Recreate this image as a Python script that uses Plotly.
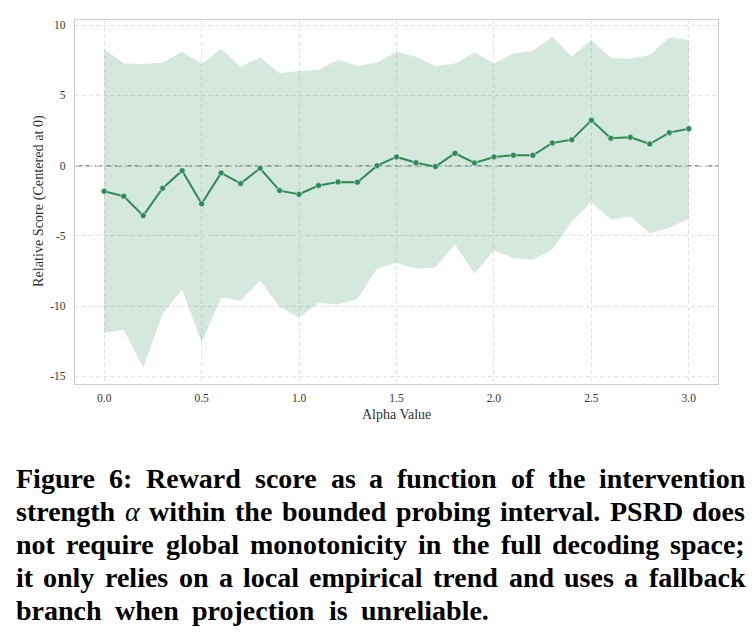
import plotly.graph_objects as go

# ---- data ----
alpha = [0.0, 0.1, 0.2, 0.3, 0.4, 0.5, 0.6, 0.7, 0.8, 0.9, 1.0,
         1.1, 1.2, 1.3, 1.4, 1.5, 1.6, 1.7, 1.8, 1.9, 2.0,
         2.1, 2.2, 2.3, 2.4, 2.5, 2.6, 2.7, 2.8, 2.9, 3.0]
mean_score = [-1.82, -2.18, -3.56, -1.61, -0.36, -2.72, -0.52, -1.28, -0.19, -1.78, -2.04,
              -1.42, -1.16, -1.18, 0.00, 0.62, 0.21, -0.07, 0.88, 0.19, 0.62,
              0.74, 0.74, 1.61, 1.85, 3.23, 1.95, 2.02, 1.54, 2.35, 2.63]
upper_band = [8.28, 7.28, 7.23, 7.33, 8.11, 7.23, 8.32, 7.04, 7.71, 6.59, 6.74,
              6.83, 7.54, 7.09, 7.35, 8.11, 7.75, 7.09, 7.28, 8.06, 7.28,
              7.99, 8.16, 9.17, 7.75, 8.94, 7.66, 7.61, 7.87, 9.15, 8.94]
lower_band = [-11.92, -11.69, -14.37, -10.55, -8.84, -12.59, -9.39, -9.60, -8.18, -10.07, -10.81,
              -9.79, -9.89, -9.48, -7.33, -6.94, -7.32, -7.25, -5.59, -7.70, -6.04,
              -6.59, -6.71, -5.95, -3.98, -2.60, -3.84, -3.63, -4.81, -4.45, -3.74]
x_ticks = [0.0, 0.5, 1.0, 1.5, 2.0, 2.5, 3.0]
x_tick_labels = ["0.0", "0.5", "1.0", "1.5", "2.0", "2.5", "3.0"]
y_ticks = [-15, -10, -5, 0, 5, 10]
y_tick_labels = ["-15", "-10", "-5", "0", "5", "10"]

x_title = "Alpha Value"
y_title = "Relative Score (Centered at 0)"

caption_lines = [
    "Figure 6: Reward score as a function of the intervention",
    "strength α within the bounded probing interval. PSRD does",
    "not require global monotonicity in the full decoding space;",
    "it only relies on a local empirical trend and uses a fallback",
    "branch when projection is unreliable.",
]

GREEN = "#2e8b57"
FONT = "Liberation Serif"

W, H = 754, 634
L, R, T, B = 75, 36, 20, 250
PW, PH = W - L - R, H - T - B

# Times-Bold advance widths (per 1000 em) for laying out the justified caption
TB = {" ": 250, ".": 250, ":": 333, ";": 333, "6": 500, "α": 540,
      "a": 500, "b": 556, "c": 444, "d": 556, "e": 444, "f": 333, "g": 500, "h": 556,
      "i": 278, "j": 333, "k": 556, "l": 278, "m": 833, "n": 556, "o": 500, "p": 556,
      "q": 556, "r": 444, "s": 389, "t": 333, "u": 556, "v": 500, "w": 722, "x": 500,
      "y": 500, "z": 444, "D": 722, "F": 611, "P": 611, "R": 722, "S": 556}


def word_width(w, fs):
    return sum(TB.get(c, 500) for c in w) / 1000.0 * fs


def px2paper(px, py):
    return (px - L) / PW, (H - B - py) / PH


fig = go.Figure()
fig.add_trace(go.Scatter(x=alpha, y=upper_band, mode="lines", line=dict(width=0),
                         hoverinfo="skip", showlegend=False))
fig.add_trace(go.Scatter(x=alpha, y=lower_band, mode="lines", line=dict(width=0),
                         fill="tonexty", fillcolor="rgba(46,139,87,0.2)",
                         hoverinfo="skip", showlegend=False))
fig.add_shape(type="line", xref="paper", yref="y", x0=0, x1=1, y0=0, y1=0,
              line=dict(color="white", width=1.5), layer="below")
fig.add_shape(type="line", xref="paper", yref="y", x0=0, x1=1, y0=0, y1=0,
              line=dict(color="#8c8c8c", width=1.5, dash="7px,3px"), layer="below")
fig.add_trace(go.Scatter(x=alpha, y=mean_score, mode="lines+markers",
                         line=dict(color=GREEN, width=2),
                         marker=dict(color=GREEN, size=6, line=dict(color="white", width=0.5)),
                         showlegend=False))

axis_common = dict(showline=True, linecolor="#cccccc", linewidth=1.3, mirror=True,
                   showgrid=True, gridcolor="#e2e2e2", gridwidth=0.8, griddash="4px,3px",
                   zeroline=False, ticks="outside", tickcolor="rgba(0,0,0,0)",
                   tickfont=dict(family=FONT, size=11.5, color="#333333"))

fig.update_xaxes(range=[-0.15, 3.15], tickvals=x_ticks, ticktext=x_tick_labels, ticklen=3,
                 **axis_common)
fig.update_yaxes(range=[-15.55, 10.37], tickvals=y_ticks, ticktext=y_tick_labels, ticklen=6,
                 **axis_common)

annotations = []
ax, ay = px2paper(396.5, 414)
annotations.append(dict(text=x_title, xref="paper", yref="paper", x=ax, y=ay,
                        xanchor="center", yanchor="middle", showarrow=False,
                        font=dict(family=FONT, size=14, color="#333333")))
ax, ay = px2paper(38, 201)
annotations.append(dict(text=y_title, xref="paper", yref="paper", x=ax, y=ay,
                        xanchor="center", yanchor="middle", showarrow=False, textangle=-90,
                        font=dict(family=FONT, size=14.2, color="#333333")))

font_size = 28
left_edge = 16
right_edges = [745, 745, 745, 745, 489]
baselines = [487.5, 520.5, 553.5, 586.5, 619.5]
for text, right_edge, base in zip(caption_lines, right_edges, baselines):
    words = text.split(" ")
    widths = [word_width(w, font_size) for w in words]
    gap = (right_edge - left_edge - sum(widths)) / (len(words) - 1)
    xpos = left_edge
    for w, wd in zip(words, widths):
        label = "<i>α</i>" if w == "α" else "<b>" + w + "</b>"
        px, py = px2paper(xpos - 2, base - 0.32 * font_size)
        annotations.append(dict(text=label, xref="paper", yref="paper",
                                x=px, y=py, xanchor="left", yanchor="middle", showarrow=False,
                                font=dict(family=FONT, size=font_size, color="black")))
        xpos += wd + gap

fig.update_layout(width=W, height=H, margin=dict(l=L, r=R, t=T, b=B),
                  plot_bgcolor="white", paper_bgcolor="white",
                  annotations=annotations, showlegend=False)

fig.write_html("out.html")
